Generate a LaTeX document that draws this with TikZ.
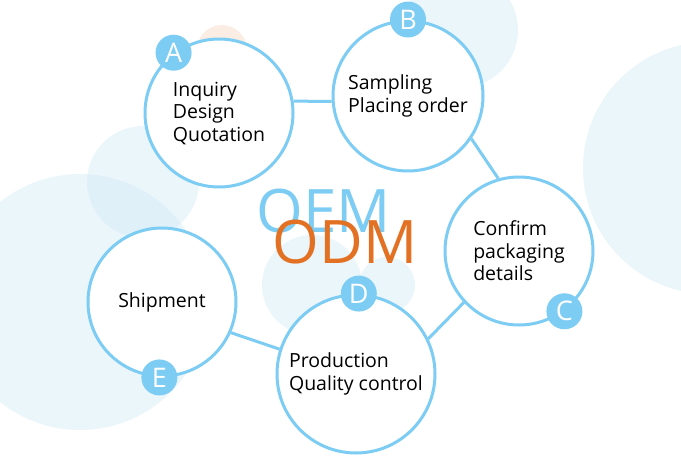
\documentclass[tikz,border=0pt]{standalone}
\usepackage{fontspec}
\setmainfont{Open Sans}
\usetikzlibrary{calc}

\definecolor{ringblue}{RGB}{125,204,243}
\definecolor{odmorange}{RGB}{227,113,36}
\definecolor{paleblue}{RGB}{205,232,245}
\definecolor{peach}{RGB}{248,214,196}

\tikzset{
  stage/.style={circle,draw=ringblue,line width=3pt,fill=white,inner sep=0pt,
    minimum size=148pt,align=left,text=black,font=\fontsize{19.5}{22.5}\selectfont},
  badge/.style={circle,fill=ringblue,inner sep=0pt,minimum size=36pt,
    text=white,font=\fontsize{27}{27}\selectfont},
  link/.style={draw=ringblue,line width=3pt},
  blob/.style={fill=paleblue,fill opacity=0.4},
  bigword/.style={inner sep=0pt,anchor=base,font=\fontsize{60}{60}\selectfont}
}

\begin{document}
\begin{tikzpicture}[x=1pt,y=-1pt]
\useasboundingbox (0,0) rectangle (681,464);

% pale circles in the back
\begin{scope}
\clip (0,0) rectangle (681,464);
\fill[blob] (80,302) circle (128);
\fill[blob] (143,182) circle (56);
\fill[blob] (709,168) circle (126);
\fill[blob] (460,30) circle (58);
\fill[blob] (312,285) circle (50);
\fill[blob] (387,285) circle (28);
\fill[peach,opacity=0.45] (222,50) circle (25);
\end{scope}

\node[bigword,text=ringblue] (oem) at (324,232) {OEM};
\node[bigword,text=odmorange] (odm) at (345,263) {ODM};

% the five steps
\node[stage] (inq) at (219,113) {Inquiry\\Design\\Quotation};
\node[stage,minimum size=150pt] (samp) at (408,96) {Sampling\\Placing order};
\node[stage] (conf) at (519,251) {Confirm\\packaging\\details};
\node[stage,minimum size=158pt] (prod) at (356,374) {Production\\Quality control};
\node[stage] (ship) at (162,302) {Shipment};

\draw[link] (inq.9) -- (samp.184);
\draw[link] (samp.-34) -- (conf.106);
\draw[link] (conf.-137) -- (prod.26);
\draw[link] (ship.-24) -- (prod.162);

\node[badge] (ba) at (inq.127) {A};
\node[badge] (bb) at (samp.90) {B};
\node[badge] (bc) at (conf.-53) {C};
\node[badge] (bd) at (prod.88) {D};
\node[badge] (be) at (ship.-92) {E};
\end{tikzpicture}
\end{document}
